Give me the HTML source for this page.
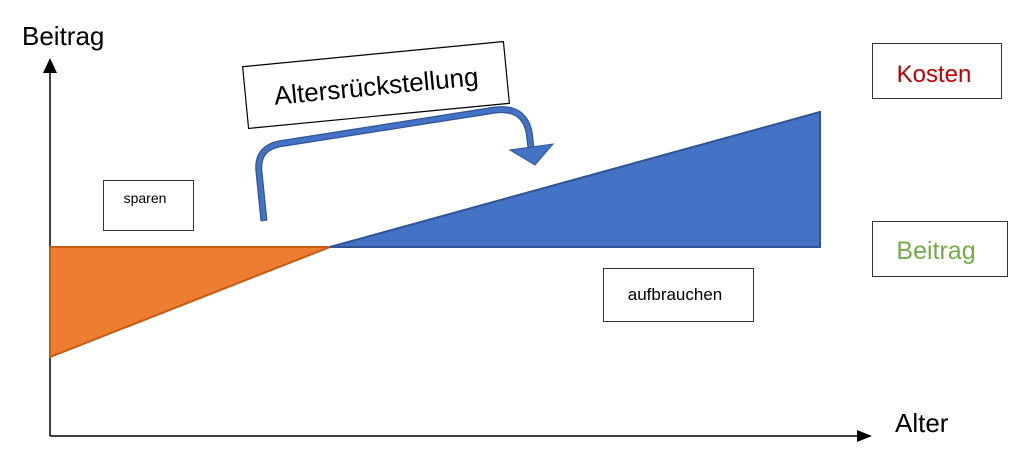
<!DOCTYPE html>
<html><head><meta charset="utf-8"><style>
html,body{margin:0;padding:0;background:#fff;}
svg{display:block;}
text{font-family:"Liberation Sans",sans-serif;}
</style></head><body>
<svg width="1024" height="463" viewBox="0 0 1024 463">
<!-- axes -->
<line x1="50" y1="436" x2="50" y2="70" stroke="#000" stroke-width="1.5"/>
<path d="M43,73 L50,58 L57,73 z" fill="#000"/>
<line x1="50" y1="436" x2="860" y2="436" stroke="#000" stroke-width="1.5"/>
<path d="M857,430 L872,436 L857,442 z" fill="#000"/>
<text x="22" y="45" font-size="26">Beitrag</text>
<text x="895" y="432" font-size="26">Alter</text>
<!-- triangles -->
<polygon points="50,247 330,247 50,357" fill="#ED7D31" stroke="#C55A11" stroke-width="2"/>
<polygon points="330,247 820,247 820,112" fill="#4472C4" stroke="#2F5597" stroke-width="2"/>
<!-- boxes -->
<rect x="103.5" y="180.5" width="90" height="50" fill="#fff" stroke="#333" stroke-width="1"/>
<text x="145" y="203" font-size="14" text-anchor="middle">sparen</text>
<rect x="603.5" y="268.5" width="150" height="53" fill="#fff" stroke="#333" stroke-width="1"/>
<text x="675" y="300" font-size="17" text-anchor="middle">aufbrauchen</text>
<rect x="872.5" y="43.5" width="129" height="55" fill="#fff" stroke="#333" stroke-width="1"/>
<text x="934" y="82" font-size="24" fill="#C00000" text-anchor="middle">Kosten</text>
<rect x="872.5" y="221.5" width="135" height="55" fill="#fff" stroke="#333" stroke-width="1"/>
<text x="936" y="259" font-size="25" fill="#70AD47" text-anchor="middle">Beitrag</text>
<!-- rotated label -->
<g transform="translate(376,85) rotate(-5.5)">
<rect x="-131" y="-31" width="262" height="62" fill="#fff" stroke="#000" stroke-width="1.2"/>
<text x="0" y="10" font-size="26" text-anchor="middle">Altersrückstellung</text>
</g>
<!-- curved arrow -->
<path d="M264,221 L259,172 Q256,146 285,143 L495,110 Q528,106 530,140 L531,148" fill="none" stroke="#2F5597" stroke-width="7"/>
<path d="M264,220 L259,172 Q256,146 285,143 L495,110 Q528,106 530,140 L531,148" fill="none" stroke="#4472C4" stroke-width="4.5"/>
<polygon points="510,150 553,144 535,165" fill="#4472C4" stroke="#2F5597" stroke-width="1"/>
</svg>
</body></html>
